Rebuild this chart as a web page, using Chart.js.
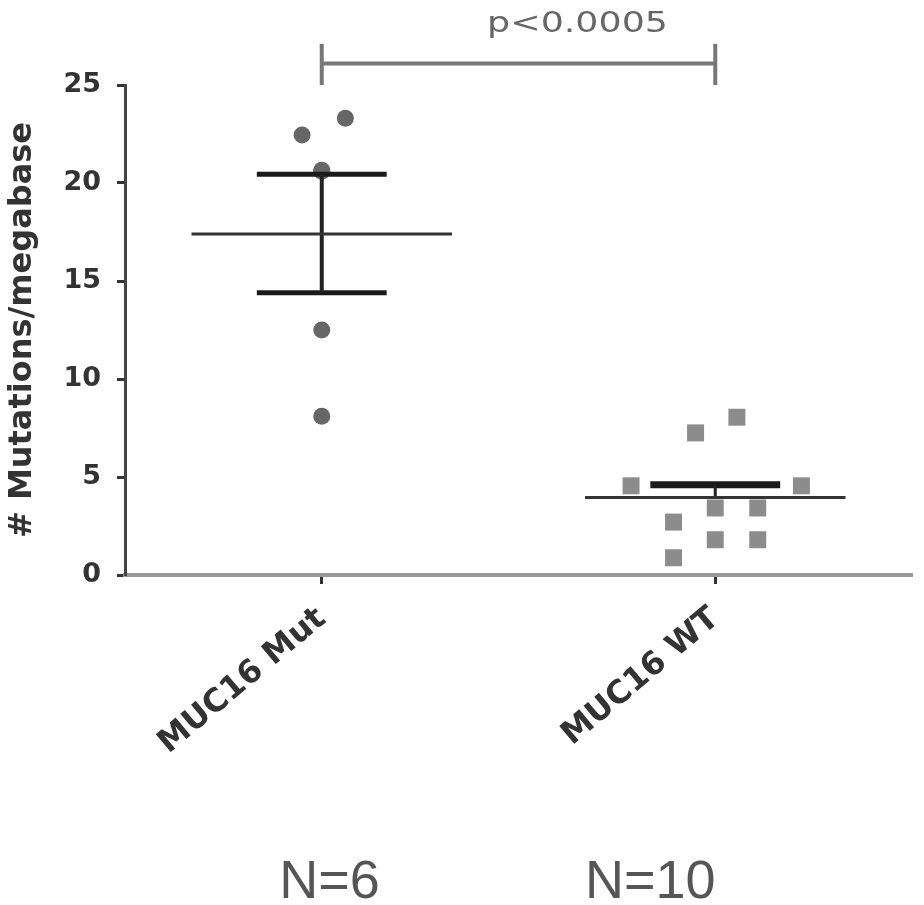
<!DOCTYPE html>
<html>
<head>
<meta charset="utf-8">
<script src="https://cdn.jsdelivr.net/npm/chart.js@4"></script>
<style>
  html, body { margin: 0; padding: 0; background: #fff; overflow: hidden; }
  #wrap { width: 924px; height: 905px; position: relative; }
  #chart { display: block; }
</style>
</head>
<body>
<div id="wrap"><canvas id="chart"></canvas></div>
<script>
// groups on the x axis
const categories = ['MUC16 Mut', 'MUC16 WT'];
const groupN = ['N=6', 'N=10'];

// individual samples (value + horizontal jitter within the group)
const mutValues = [23.3, 22.45, 20.65, 20.6, 12.5, 8.1];
const mutJitter = [0.06, -0.05, 0, 0, 0, 0];
const wtValues = [8.05, 7.25, 4.55, 4.55, 3.42, 3.42, 2.7, 1.8, 1.8, 0.88];
const wtJitter = [0.055, -0.05, -0.214, 0.219, 0, 0.108, -0.106, 0, 0.108, -0.106];

// summary lines
const means = [17.4, 3.95];
const semUpper = [20.45, 4.6];
const semLower = [14.4, null];

const yTicks = [0, 5, 10, 15, 20, 25];
const pLabel = 'p<0.0005';
const bracket = { base: 25.0, level: 26.1, top: 27.1 };

// helper: one straight segment as a line dataset
function seg(x1, y1, x2, y2, color, width) {
    return {
        type: 'line',
        data: [{ x: x1, y: y1 }, { x: x2, y: y2 }],
        borderColor: color,
        borderWidth: width,
        borderCapStyle: 'butt',
        pointRadius: 0,
        showLine: true,
        fill: false,
        clip: false
    };
}

const lineSets = [];
categories.forEach((c, i) => {
    lineSets.push(seg(i - 0.331, means[i], i + 0.331, means[i], '#333', 3));
    const lo = semLower[i] !== null ? semLower[i] : means[i];
    lineSets.push(seg(i, lo, i, semUpper[i], '#222', i === 0 ? 4 : 3));
    lineSets.push(seg(i - 0.165, semUpper[i], i + 0.165, semUpper[i], '#1a1a1a', i === 0 ? 5 : 7));
    if (semLower[i] !== null) {
        lineSets.push(seg(i - 0.165, semLower[i], i + 0.165, semLower[i], '#1a1a1a', 5));
    }
});
// significance bracket
lineSets.push(seg(0, bracket.level, 1, bracket.level, '#777', 4));
lineSets.push(seg(0, bracket.base, 0, bracket.top, '#777', 4));
lineSets.push(seg(1, bracket.base, 1, bracket.top, '#777', 4));

const textPlugin = {
    id: 'extraText',
    afterDraw(chart) {
        const ctx = chart.ctx;
        const xs = chart.scales.x;
        const ys = chart.scales.y;
        ctx.save();
        // p-value above the bracket
        ctx.fillStyle = '#666';
        ctx.font = '28px "DejaVu Sans"';
        ctx.textAlign = 'center';
        ctx.textBaseline = 'alphabetic';
        const px = xs.getPixelForValue(0.65);
        const py = ys.getPixelForValue(28.2) + 10;
        ctx.translate(px, py);
        ctx.scale(1.3, 1);
        ctx.fillText(pLabel, 0, 0);
        ctx.restore();

        // group sizes at the bottom
        ctx.save();
        ctx.fillStyle = '#555';
        ctx.font = '54px "Liberation Sans"';
        ctx.textAlign = 'center';
        ctx.textBaseline = 'alphabetic';
        const nPos = [0.02, 0.835];
        groupN.forEach((t, i) => {
            ctx.fillText(t, xs.getPixelForValue(nPos[i]), 898);
        });
        ctx.restore();
    }
};

new Chart(document.getElementById('chart'), {
    type: 'scatter',
    data: {
        datasets: [
            ...lineSets,
            {
                label: categories[0],
                data: mutValues.map((v, k) => ({ x: 0 + mutJitter[k], y: v })),
                pointStyle: 'circle',
                pointRadius: 8.5,
                backgroundColor: '#666',
                borderWidth: 0
            },
            {
                label: categories[1],
                data: wtValues.map((v, k) => ({ x: 1 + wtJitter[k], y: v })),
                pointStyle: 'rect',
                pointRadius: 12,
                backgroundColor: '#8c8c8c',
                borderWidth: 0
            }
        ]
    },
    options: {
        responsive: true,
        maintainAspectRatio: false,
        animation: false,
        layout: { padding: { top: 85, right: 5, left: 0, bottom: 0 } },
        plugins: {
            legend: { display: false },
            tooltip: { enabled: false }
        },
        scales: {
            x: {
                type: 'linear',
                min: -0.5,
                max: 1.5,
                afterBuildTicks: scale => {
                    scale.ticks = categories.map((c, i) => ({ value: i }));
                },
                afterFit: scale => { scale.height = 330; },
                ticks: {
                    callback: v => categories[v],
                    autoSkip: false,
                    minRotation: 40,
                    maxRotation: 40,
                    padding: 16,
                    color: '#333',
                    font: { family: 'DejaVu Sans', size: 32, weight: 'bold' }
                },
                grid: {
                    drawOnChartArea: false,
                    tickLength: 9,
                    tickColor: '#333',
                    tickWidth: 3
                },
                border: { color: '#999', width: 4 }
            },
            y: {
                min: 0,
                max: 25,
                afterBuildTicks: scale => {
                    scale.ticks = yTicks.map(v => ({ value: v }));
                },
                afterFit: scale => { scale.width = 125; },
                ticks: {
                    padding: 16,
                    color: '#333',
                    font: { family: 'DejaVu Sans', size: 27, weight: 'bold' }
                },
                grid: {
                    drawOnChartArea: false,
                    tickLength: 8,
                    tickColor: '#333',
                    tickWidth: 3
                },
                border: { color: '#444', width: 3 },
                title: {
                    display: true,
                    text: '# Mutations/megabase',
                    color: '#333',
                    padding: 3,
                    font: { family: 'DejaVu Sans', size: 32, weight: 'bold' }
                }
            }
        }
    },
    plugins: [textPlugin]
});
</script>
</body>
</html>
